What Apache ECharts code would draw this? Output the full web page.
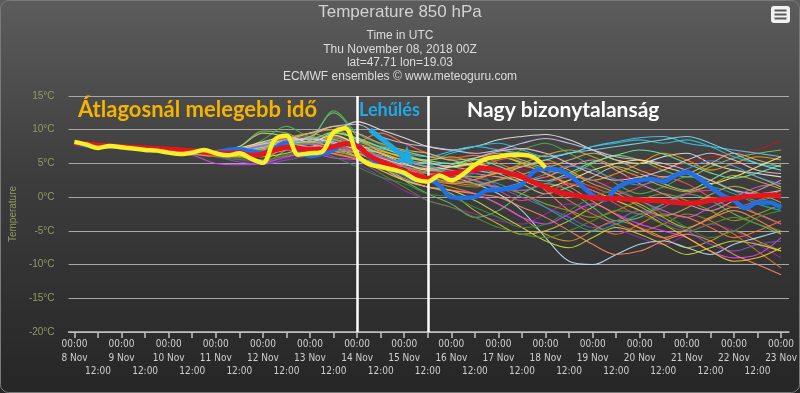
<!DOCTYPE html>
<html><head><meta charset="utf-8">
<script src="https://cdn.jsdelivr.net/npm/echarts@6/dist/echarts.min.js"></script>
<style>html,body{margin:0;padding:0;background:#2a2a2a}#c{width:800px;height:393px}</style>
</head><body><div id="c"></div>
<script>
// ---- data ----
const dayLabels = ['8 Nov','9 Nov','10 Nov','11 Nov','12 Nov','13 Nov','14 Nov','15 Nov','16 Nov','17 Nov','18 Nov','19 Nov','20 Nov','21 Nov','22 Nov','23 Nov'];
const tickHours = [0,12,24,36,48,60,72,84,96,108,120,132,144,156,168,180,192,204,216,228,240,252,264,276,288,300,312,324,336,348,360];
const midnightHours = [0,24,48,72,96,120,144,168,192,216,240,264,288,312,336,360];
const noonHours = [12,36,60,84,108,132,156,180,204,228,252,276,300,324,348];
const dividerHours = [144, 180];
const mainStep = 6;     // hours between points of the thick lines
const memberStep = 12;  // hours between points of the ensemble members

// ensemble mean (red)
const meanValues = [8.0,7.9,7.7,7.6, 7.5,7.4,7.3,7.2, 7.1,7.0,6.9,6.7, 6.5,6.5,6.6,6.2, 6.4,7.0,7.4,7.2, 7.1,7.1,7.5,7.9, 7.6,6.2,5.3,4.6, 3.8,3.2,2.8,3.3, 3.5,3.8,4.1,4.3, 4.0,3.5,3.0,2.2, 1.5,0.8,0.4,0.1, -0.1,-0.2,-0.2,-0.3, -0.4,-0.5,-0.6,-0.8, -0.9,-0.8,-0.5,-0.3, -0.2,0.1,0.2,0.3, 0.1];
// control run (blue)
const controlValues = [8.0,7.7,7.5,7.6, 7.4,7.3,7.2,7.0, 6.9,7.0,6.8,6.7, 6.6,7.0,7.1,6.8, 6.6,7.3,8.1,6.8, 6.1,6.4,7.0,8.0, 7.8,6.0,4.8,4.0, 3.4,2.5,2.6,1.7, 0.0,-0.1,0.0,1.0, 1.1,1.3,1.9,3.8, 4.2,4.1,3.3,1.8, 0.3,-0.4,1.3,2.2, 2.5,2.7,2.3,3.2, 3.7,2.8,1.5,0.3, -0.5,-1.6,-0.8,-0.8, -1.6];
// high resolution run (yellow), ends 18 Nov
const hresValues = [8.2,7.8,7.3,7.6, 7.4,7.2,7.0,6.9, 6.6,6.4,6.6,7.0, 6.5,6.2,6.5,5.7, 5.1,8.5,9.1,6.3, 6.5,6.7,9.6,10.2, 6.3,4.9,4.5,4.1, 3.6,2.6,2.3,3.2, 2.5,3.4,4.8,5.7, 6.0,6.3,6.3,5.9, 4.4];

// ensemble members (12-hourly)
const members = [
 [8.3,7.6,7.4,7.2,6.9,6.6,6.8,7.5,9.8,9.5, 8.0,8.8,7.5,6.0,4.5,3.8,4.5,5.5,6.0,5.2, 4.0,3.5,5.0,6.2,5.5,4.0,3.0,4.5,5.8,6.5,7.0],
 [8.0,7.5,7.6,7.0,6.8,6.9,6.5,6.0,5.5,7.5, 7.0,7.8,8.5,6.5,4.5,2.5,1.5,0.5,-1.0,-3.0, -5.5,-6.5,-5.0,-3.5,-4.5,-6.0,-7.5,-6.5,-5.0,-6.5,-8.0],
 [8.2,7.8,7.3,7.4,7.0,6.4,6.2,6.8,8.5,10.5, 9.0,12.8,9.5,7.8,6.5,5.0,3.5,4.0,5.5,7.0, 8.0,6.5,4.5,2.0,0.5,1.5,3.0,2.5,1.0,-0.5,0.5],
 [7.9,7.4,7.7,7.3,6.6,6.5,6.9,7.2,6.5,6.0, 7.0,6.5,8.0,9.5,8.0,6.5,5.8,6.2,5.0,3.5, 1.0,-2.0,-4.0,-5.5,-4.0,-2.5,-3.0,-4.5,-6.0,-5.0,-3.5],
 [8.1,7.7,7.5,7.0,6.8,6.7,6.3,6.5,7.2,8.0, 7.5,9.5,11.2,10.0,8.8,7.5,7.0,7.5,8.5,9.0, 9.3,8.5,7.0,5.5,5.0,6.0,6.5,5.0,4.0,3.5,3.0],
 [8.0,7.6,7.2,7.1,6.7,6.3,6.0,5.5,5.2,5.8, 6.5,6.0,5.0,3.0,1.0,-0.5,-1.5,-2.5,-3.5,-4.0, -2.5,-1.0,-2.0,-4.5,-6.0,-7.0,-5.5,-4.0,-5.0,-7.0,-9.0],
 [8.1,7.9,7.5,7.3,6.9,6.7,6.6,7.0,7.8,8.5, 8.0,7.0,6.5,5.0,4.0,3.5,3.0,2.0,0.5,-2.0, -6.0,-9.5,-10.0,-8.5,-7.0,-6.5,-7.5,-8.5,-7.0,-6.0,-5.0],
 [8.3,7.7,7.4,7.1,7.0,6.6,6.4,6.9,7.5,8.0, 8.8,9.0,8.2,7.0,6.0,5.5,6.5,7.5,8.0,7.0, 6.0,6.5,7.5,8.0,8.5,8.0,8.5,7.5,6.0,5.0,4.5],
 [8.0,7.5,7.3,7.0,6.5,6.2,5.0,4.8,5.0,6.0, 6.5,5.8,5.5,4.0,2.5,1.5,1.0,0.5,-1.0,-3.0, -4.0,-2.5,-1.0,-2.5,-4.0,-5.0,-6.0,-8.0,-9.0,-8.5,-6.0],
 [8.2,7.8,7.6,7.3,6.9,6.5,6.7,7.3,8.0,8.8, 9.5,10.0,8.5,7.0,5.8,5.5,6.0,5.0,4.0,4.5, 5.5,4.0,2.5,3.5,5.0,6.5,5.5,4.0,5.0,6.0,5.5],
 [8.0,7.6,7.5,7.0,6.8,6.5,6.3,6.0,6.8,7.5, 6.8,7.2,6.0,4.0,2.5,1.5,0.5,-2.0,-4.0,-5.5, -5.0,-3.5,-1.5,0.0,-1.0,-3.0,-4.5,-3.0,-1.5,-2.5,-4.0],
 [8.1,7.4,7.2,7.2,7.0,6.7,6.5,6.2,5.2,7.0, 8.5,12.5,9.0,5.5,2.5,0.5,-1.0,-3.0,-2.0,0.5, 2.0,1.0,-1.5,-3.5,-3.0,-1.0,0.5,-0.5,-2.5,-4.0,-5.5],
 [8.2,7.7,7.3,7.3,6.9,6.4,6.6,7.0,7.6,8.2, 7.5,8.0,7.0,6.2,5.5,4.5,4.0,3.5,3.0,2.5, 3.0,4.5,5.5,4.0,2.0,0.5,-1.0,-2.0,-0.5,1.0,2.5],
 [8.0,7.6,7.6,7.2,6.7,6.6,6.4,6.6,7.3,8.5, 9.0,8.0,6.5,5.5,4.5,3.0,2.0,1.5,2.5,3.0, 1.5,-0.5,-2.5,-4.0,-5.0,-4.0,-2.5,-3.5,-5.5,-8.0,-10.5],
 [8.1,7.5,7.4,7.0,6.8,6.4,6.0,5.2,4.9,5.5, 6.2,6.8,7.2,5.5,4.0,3.0,2.8,3.5,1.5,0.0, -1.5,-3.0,-4.5,-3.5,-2.0,-3.5,-5.0,-7.0,-8.0,-7.0,-6.5],
 [8.2,7.9,7.4,7.3,7.1,6.9,6.7,7.5,9.5,9.0, 8.0,9.5,8.8,7.5,6.8,6.0,5.5,4.5,3.5,2.0, 0.5,1.5,3.0,4.5,3.5,2.0,1.0,2.5,4.0,3.0,1.5],
 [7.9,7.5,7.4,7.1,6.9,6.6,6.3,6.5,7.0,7.8, 8.3,7.5,7.8,6.8,6.0,5.2,4.5,5.0,6.0,5.0, 3.5,2.0,1.0,-0.5,-2.0,-4.0,-6.0,-8.0,-9.5,-9.0,-7.5],
 [8.0,7.6,7.3,7.2,6.9,6.6,6.4,6.8,7.4,7.0, 6.5,7.5,8.0,6.5,5.0,4.0,3.0,2.5,3.5,4.0, 3.0,2.0,1.5,2.5,3.5,4.5,5.0,6.0,6.5,7.0,8.5],
 [8.1,7.7,7.5,7.1,6.6,6.5,6.7,7.2,8.0,9.0, 8.5,7.8,7.0,6.0,5.0,4.2,3.5,3.0,2.0,0.5, -1.5,-3.5,-5.0,-4.0,-2.5,-1.0,0.5,1.5,0.5,-1.0,-2.0],
 [8.2,7.8,7.5,7.2,7.0,6.7,6.5,6.8,7.5,8.5, 9.5,10.5,10.8,9.0,8.0,7.5,7.0,6.5,7.0,8.0, 8.7,8.0,7.0,6.0,5.5,5.0,4.0,2.5,1.0,0.5,1.0],
 [8.0,7.5,7.3,7.1,6.8,6.6,6.4,6.2,6.0,6.5, 7.5,7.0,6.0,4.5,2.5,1.5,1.0,-0.5,-2.5,-4.5, -6.5,-7.5,-6.0,-4.5,-5.5,-7.0,-8.5,-7.5,-6.5,-7.0,-8.0],
 [8.1,7.6,7.4,7.0,6.7,6.5,6.8,7.2,7.0,7.8, 8.0,9.0,7.5,6.0,4.5,3.5,3.8,4.5,5.5,6.0, 5.0,3.0,1.5,0.5,1.5,3.0,2.0,0.0,-1.5,-0.5,1.0],
 [8.3,7.8,7.5,7.3,6.9,6.6,6.5,7.0,8.0,8.5, 8.0,8.5,7.5,7.2,6.5,6.0,6.8,7.5,7.0,6.5, 6.0,6.5,7.5,8.2,8.8,9.0,8.0,7.5,7.0,6.5,6.0],
 [8.0,7.6,7.4,7.0,6.8,6.5,6.1,5.8,5.5,6.3, 7.0,6.0,4.5,3.0,2.0,0.5,0.0,-1.5,-3.0,-4.5, -4.0,-2.0,0.0,1.0,-0.5,-2.5,-4.5,-6.0,-5.0,-3.0,-2.0],
 [8.1,7.7,7.3,7.2,6.9,6.6,6.4,6.9,7.8,8.6, 8.0,7.5,6.8,5.5,4.0,3.5,3.2,2.5,1.0,-0.5, 0.5,2.0,1.0,-1.0,-2.5,-1.5,0.5,1.0,-0.5,-2.5,-4.0],
 [8.2,7.7,7.5,7.3,7.0,6.8,6.6,6.9,7.6,8.0, 9.0,10.5,9.5,8.0,7.0,6.5,5.5,5.8,6.5,5.5, 4.5,5.5,6.5,5.5,4.0,3.0,3.5,5.0,6.5,5.5,4.5],
 [8.0,7.5,7.4,7.1,6.7,6.5,6.3,6.0,6.2,7.0, 7.5,6.8,6.0,4.5,2.8,1.5,1.0,0.5,0.0,-1.5, -3.0,-5.0,-7.0,-8.5,-8.0,-6.5,-5.5,-6.5,-8.5,-10.0,-11.5],
 [8.1,7.6,7.4,7.2,6.9,6.6,6.5,6.8,7.4,8.2, 8.8,8.0,7.3,6.5,5.5,5.0,4.5,4.0,3.5,4.5, 5.5,6.5,7.0,7.5,8.0,8.5,9.0,8.0,6.5,5.0,4.0],
 [8.0,7.7,7.5,7.0,6.8,6.5,6.3,6.5,7.0,7.5, 7.2,6.5,5.8,5.0,4.5,3.5,2.5,2.0,1.5,0.5, -1.0,-2.0,-3.0,-2.0,-0.5,0.5,-0.5,-2.0,-3.5,-2.5,-1.0],
 [8.2,7.8,7.4,7.3,7.0,6.7,6.5,7.0,7.5,7.0, 6.5,7.0,6.5,5.5,4.5,4.0,3.5,2.5,1.5,1.0, 2.0,3.0,2.5,1.0,-0.5,-2.0,-3.0,-1.5,0.0,1.5,2.0],
 [8.1,7.6,7.5,7.2,6.9,6.5,6.7,7.3,8.2,9.0, 8.2,9.2,7.8,6.5,5.0,4.0,4.5,5.0,4.0,2.5, 1.5,2.5,4.0,5.0,5.5,4.5,3.5,2.0,3.0,4.5,6.0],
 [8.0,7.5,7.3,7.1,6.6,6.3,6.0,5.6,5.4,6.2, 6.8,7.0,5.5,3.5,1.5,-0.5,-1.5,-3.0,-4.5,-5.5, -6.0,-5.0,-3.5,-2.0,-2.5,-4.0,-5.0,-4.0,-3.0,-4.0,-5.0],
 [8.1,7.7,7.4,7.2,6.8,6.5,6.6,7.1,7.9,8.4, 8.6,8.2,7.0,5.8,4.8,4.2,4.8,5.8,6.8,7.2, 6.5,5.0,3.5,2.5,3.0,4.0,5.5,6.5,5.5,4.0,3.5],
 [8.0,7.6,7.3,7.1,6.9,6.6,6.2,6.0,6.6,7.6, 8.2,7.4,6.6,5.2,3.8,3.0,2.2,1.8,2.6,3.4, 4.2,3.6,2.0,0.6,-1.4,-2.8,-1.6,0.4,1.6,0.6,-0.8],
 [8.2,7.7,7.5,7.2,7.0,6.7,6.5,6.9,7.4,7.9, 8.4,9.6,8.6,7.4,6.2,5.4,5.0,5.6,4.6,3.2, 2.4,3.6,5.2,6.2,7.0,6.4,5.0,3.6,2.8,3.6,4.8],
 [8.1,7.6,7.4,7.1,6.7,6.4,6.1,6.3,7.0,7.4, 7.0,6.4,5.6,4.4,3.4,2.6,2.0,2.6,3.8,4.6, 3.6,1.6,-0.6,-2.6,-4.6,-6.0,-4.8,-3.2,-2.0,-3.4,-5.4],
 [8.0,7.5,7.4,7.0,6.8,6.5,6.4,6.8,7.6,8.1, 7.8,8.4,7.2,6.0,5.2,4.6,3.6,2.4,1.4,2.2, 3.4,4.6,4.0,2.6,1.8,2.8,4.2,5.4,4.6,3.0,2.0],
 [8.2,7.8,7.5,7.3,6.9,6.6,6.4,6.6,7.2,8.6, 9.4,8.6,7.6,6.6,5.4,4.4,3.4,3.0,3.6,5.0, 6.2,7.0,6.0,4.4,3.0,1.6,0.8,1.8,3.2,2.4,1.2]
];
const memberColors = ['#8bc34a','#d4a017','#4caf50','#ff7043','#e8e8e8','#9c27b0','#b3e5fc','#26c6da','#e040fb','#ff9800',
 '#c0ca33','#66bb6a','#f48fb1','#c77c2e','#7e57c2','#aed581','#ffca28','#b71c1c','#26a69a','#d1c4e9',
 '#cddc39','#ef5350','#4fc3f7','#388e3c','#ec407a','#d7b56d','#ff8a65','#80deea','#9e9d24','#ba68c8',
 '#fff176','#558b2f','#f8bbd0','#bcaa4a','#69f0ae','#ff7f50','#5c8dd6','#c9b037'];

// annotation arrow (in data units: hours, °C)
const arrowFrom = [150.5, 10.0];
const arrowTo = [172.5, 5.0];

// ---- chart ----
const chart = echarts.init(document.getElementById('c'));
const toPairs = (vals, step) => vals.map((v, i) => [i * step, v]);
const series = [];
members.forEach((vals, k) => series.push({
  type: 'line', data: toPairs(vals, memberStep), smooth: 0.35, symbol: 'none', silent: true,
  lineStyle: { width: 1.1, color: memberColors[k % memberColors.length], opacity: 0.9 }, z: 2
}));
series.push({
  type: 'line', data: [], z: 3, silent: true,
  markLine: { silent: true, symbol: 'none', animation: false, label: { show: false },
    lineStyle: { color: '#ffffff', width: 2.5, type: 'solid' },
    data: dividerHours.map(h => ({ xAxis: h })) }
});
series.push({ type: 'line', name: 'control', data: toPairs(controlValues, mainStep), smooth: 0.35, symbol: 'none', silent: true,
  lineStyle: { width: 4.5, color: '#1f6fe6' }, z: 4 });
series.push({ type: 'line', name: 'mean', data: toPairs(meanValues, mainStep), smooth: 0.35, symbol: 'none', silent: true,
  lineStyle: { width: 5, color: '#e8141c' }, z: 5 });
series.push({ type: 'line', name: 'hres', data: toPairs(hresValues, mainStep), smooth: 0.35, symbol: 'none', silent: true,
  lineStyle: { width: 4.5, color: '#f5f02a' }, z: 6 });
series.push({
  type: 'line', data: [], z: 10, silent: true,
  markLine: { silent: true, animation: false, symbol: ['none', 'arrow'], symbolSize: 16, label: { show: false },
    lineStyle: { color: '#1ea8e4', width: 5, type: 'solid' },
    data: [[{ coord: arrowFrom }, { coord: arrowTo }]] }
});

const narrow = "'Liberation Sans Narrow','Liberation Sans',sans-serif";
const labelFont = "'DejaVu Sans Condensed','DejaVu Sans',sans-serif";
const option = {
  animation: false,
  backgroundColor: { type: 'linear', x: 0, y: 0, x2: 0, y2: 1,
    colorStops: [{ offset: 0, color: '#5c5c5c' }, { offset: 0.45, color: '#3d3d3d' }, { offset: 1, color: '#262626' }] },
  grid: { left: 68, right: 8, top: 96, bottom: 61 },
  xAxis: [{
    type: 'value', min: -3, max: 364, position: 'bottom',
    axisLine: { onZero: false, lineStyle: { color: '#c4c4c4', width: 1.5 } },
    axisTick: { customValues: tickHours, length: 6, lineStyle: { color: '#c4c4c4', width: 1.5 } },
    splitLine: { show: false },
    axisLabel: {
      customValues: midnightHours, showMinLabel: true, showMaxLabel: true, hideOverlap: false,
      margin: 6, color: '#cfcfcf', fontSize: 10, lineHeight: 13.5, fontFamily: labelFont,
      formatter: v => '00:00\n' + dayLabels[v / 24]
    }
  }, {
    type: 'value', min: -3, max: 364, position: 'bottom',
    axisLine: { show: false, onZero: false }, axisTick: { show: false }, splitLine: { show: false },
    axisLabel: {
      customValues: noonHours, showMinLabel: true, showMaxLabel: true, hideOverlap: false,
      margin: 33, color: '#cfcfcf', fontSize: 10, lineHeight: 13.5, fontFamily: labelFont,
      formatter: () => '12:00'
    }
  }],
  yAxis: {
    type: 'value', min: -20, max: 15, interval: 5,
    name: 'Temperature', nameLocation: 'middle', nameGap: 41,
    nameTextStyle: { color: '#8f9d5f', fontSize: 10, fontFamily: narrow },
    axisLine: { show: false }, axisTick: { show: false },
    splitLine: { lineStyle: { color: '#a8a8a8', width: 1.2 } },
    axisLabel: { formatter: '{value}°C', color: '#8f9d5f', fontSize: 10, margin: 14, fontFamily: narrow }
  },
  graphic: [
    { type: 'rect', silent: true, z: 0, shape: { x: 0.5, y: 0.5, width: 799, height: 392, r: 8 },
      style: { fill: 'none', stroke: '#7a7a7a', lineWidth: 1 } },
    { type: 'text', x: 400, y: 12, style: { text: 'Temperature 850 hPa', textAlign: 'center', textVerticalAlign: 'middle',
      fill: '#d2d2d2', font: "17px " + narrow } },
    { type: 'text', x: 400, y: 36, style: { text: 'Time in UTC', textAlign: 'center', textVerticalAlign: 'middle', fill: '#dcdcdc', font: "12px " + narrow } },
    { type: 'text', x: 400, y: 49.5, style: { text: 'Thu November 08, 2018 00Z', textAlign: 'center', textVerticalAlign: 'middle', fill: '#dcdcdc', font: "12px " + narrow } },
    { type: 'text', x: 400, y: 63, style: { text: 'lat=47.71 lon=19.03', textAlign: 'center', textVerticalAlign: 'middle', fill: '#dcdcdc', font: "12px " + narrow } },
    { type: 'text', x: 400, y: 76.5, style: { text: 'ECMWF ensembles © www.meteoguru.com', textAlign: 'center', textVerticalAlign: 'middle', fill: '#dcdcdc', font: "12px " + narrow } },
    { type: 'group', x: 771, y: 6, children: [
      { type: 'rect', shape: { x: 0, y: 0, width: 19, height: 17, r: 3 }, style: { fill: '#f2f2f2' } },
      { type: 'rect', shape: { x: 3.5, y: 3.5, width: 12, height: 2 }, style: { fill: '#5a5a5a' } },
      { type: 'rect', shape: { x: 3.5, y: 7.5, width: 12, height: 2 }, style: { fill: '#5a5a5a' } },
      { type: 'rect', shape: { x: 3.5, y: 11.5, width: 12, height: 2 }, style: { fill: '#5a5a5a' } }
    ] },
    { type: 'text', z: 100, x: 78, y: 110, style: { text: 'Átlagosnál melegebb idő', textVerticalAlign: 'middle',
      fill: '#f5b400', font: "bold 22px Lato, 'Open Sans', sans-serif" } },
    { type: 'text', z: 100, x: 359, y: 110, style: { text: 'Lehűlés', textVerticalAlign: 'middle',
      fill: '#22a8e6', font: "bold 18px Lato, 'Open Sans', sans-serif" } },
    { type: 'text', z: 100, x: 467, y: 110, style: { text: 'Nagy bizonytalanság', textVerticalAlign: 'middle',
      fill: '#ffffff', font: "bold 21px Lato, 'Open Sans', sans-serif" } }
  ],
  series: series
};
chart.setOption(option);
</script>
</body></html>
